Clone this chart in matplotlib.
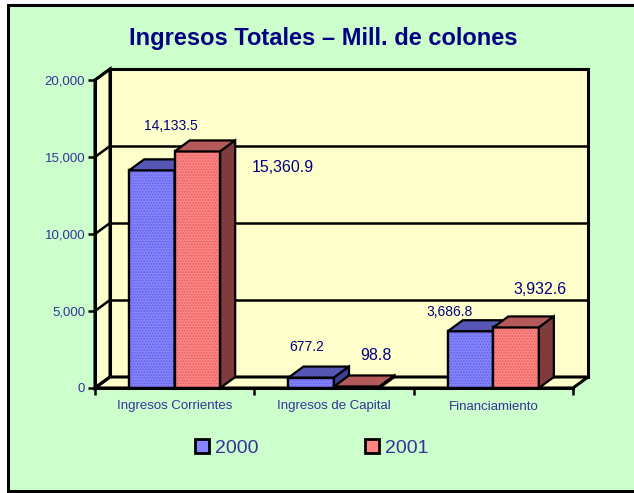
import matplotlib
matplotlib.use("Agg")
import matplotlib.pyplot as plt
from matplotlib.patches import Polygon, Rectangle, Patch
from matplotlib import font_manager

# ---------------- data ----------------
categories = ["Ingresos Corrientes", "Ingresos de Capital", "Financiamiento"]
series_names = ["2000", "2001"]
values_2000 = [14133.5, 677.2, 3686.8]
values_2001 = [15360.9, 98.8, 3932.6]
label_2000 = ["14,133.5", "677.2", "3,686.8"]
label_2001 = ["15,360.9", "98.8", "3,932.6"]
y_ticks = [0, 5000, 10000, 15000, 20000]
y_tick_labels = ["0", "5,000", "10,000", "15,000", "20,000"]

# ---------------- style ----------------
names = {f.name for f in font_manager.fontManager.ttflist}
HAS_NARROW = "Liberation Sans Narrow" in names
NARROW = "Liberation Sans Narrow" if HAS_NARROW else "Liberation Sans"
REG = "Liberation Sans"
plt.rcParams["font.family"] = [REG, "DejaVu Sans"]
plt.rcParams["hatch.linewidth"] = 0.8

W, H = 634, 493
fig = plt.figure(figsize=(W / 100, H / 100), dpi=100, facecolor="white")

# outer green frame
fig.patches.append(Rectangle((8 / W, 2 / H), (640 - 8) / W, (488 - 2) / H,
                             transform=fig.transFigure, facecolor="#CCFFCC",
                             edgecolor="black", lw=2.2, zorder=-10))

x0, x1, yb, yt = 95, 573, 388, 80
ax = fig.add_axes([x0 / W, (H - yb) / H, (x1 - x0) / W, (yb - yt) / H])
ax.set_zorder(1)
ax.set_xlim(0, 3)
ax.set_ylim(0, 20000)
ax.patch.set_visible(False)
for s in ax.spines.values():
    s.set_visible(False)

# depth offsets in data units
px_x = 3 / (x1 - x0)
px_y = 20000 / (yb - yt)
ddx = 15 * px_x
ddy = 11 * px_y
ymax = 20000
ncat = len(categories)

wall = "#FFFFCC"
lw_wall = 2.2
# back wall
ax.add_patch(Polygon([(ddx, ddy), (ncat + ddx, ddy), (ncat + ddx, ymax + ddy), (ddx, ymax + ddy)],
                     closed=True, facecolor=wall, edgecolor="black", lw=lw_wall, clip_on=False, zorder=1))
# left wall
ax.add_patch(Polygon([(0, 0), (0, ymax), (ddx, ymax + ddy), (ddx, ddy)],
                     closed=True, facecolor=wall, edgecolor="black", lw=lw_wall, clip_on=False, zorder=1))
# floor
ax.add_patch(Polygon([(0, 0), (ncat, 0), (ncat + ddx, ddy), (ddx, ddy)],
                     closed=True, facecolor=wall, edgecolor="black", lw=lw_wall, clip_on=False, zorder=1))
# gridlines
for v in y_ticks[1:-1]:
    ax.plot([ddx, ncat + ddx], [v + ddy, v + ddy], color="black", lw=1.8, clip_on=False, zorder=2)
for v in y_ticks:
    ax.plot([0, ddx], [v, v + ddy], color="black", lw=1.8, clip_on=False, zorder=2)
ax.plot([0, 0], [0, ymax], color="black", lw=lw_wall, clip_on=False, zorder=2)
ax.plot([0, ncat], [0, 0], color="black", lw=lw_wall, clip_on=False, zorder=2)

# ---------------- bars ----------------
bw = 1 / 3.5
colors = {
    "2000": ("#8585FF", "#5656B4", "#3E3E90", "#6060E0"),
    "2001": ("#FF8585", "#B45A5A", "#7E3C3C", "#E06060"),
}
z = 3
for i in range(ncat):
    c = i + 0.5
    for j, (name, vals) in enumerate(zip(series_names, [values_2000, values_2001])):
        front, top, side, dots = colors[name]
        left = c - bw + j * bw
        v = vals[i]
        ax.bar([left], [v], width=bw, align="edge", color=front, edgecolor="black",
               lw=1.6, zorder=z, clip_on=False)
        ax.bar([left], [v], width=bw, align="edge", facecolor="none", edgecolor=dots,
               lw=0, hatch="......", zorder=z, clip_on=False)
        ax.bar([left], [v], width=bw, align="edge", facecolor="none", edgecolor="black",
               lw=1.6, zorder=z, clip_on=False)
        ax.add_patch(Polygon([(left, v), (left + bw, v), (left + bw + ddx, v + ddy), (left + ddx, v + ddy)],
                             closed=True, facecolor=top, edgecolor="black", lw=1.6, zorder=z, clip_on=False))
        ax.add_patch(Polygon([(left + bw, 0), (left + bw, v), (left + bw + ddx, v + ddy), (left + bw + ddx, ddy)],
                             closed=True, facecolor=side, edgecolor="black", lw=1.6, zorder=z, clip_on=False))
        z += 1

# ---------------- ticks ----------------
tick_color = "#333399"
ax.set_yticks(y_ticks)
ax.set_yticklabels(y_tick_labels, fontsize=9.5, color=tick_color)
ax.tick_params(axis="y", length=5, width=1.8, pad=2, color="black")
ax.set_xticks([i + 0.5 for i in range(ncat)])
ax.set_xticklabels(categories, fontsize=9.5, color=tick_color)
ax.tick_params(axis="x", which="major", length=0, pad=9)
ax.set_xticks([0, 1, 2, 3], minor=True)
ax.tick_params(axis="x", which="minor", length=5, width=1.8, color="black")

# ---------------- data labels (figure pixel positions) ----------------
def fig_text(px, py, s, **kw):
    fig.text(px / W, 1 - py / H, s, ha="center", va="center", **kw)

lab_col = "#000080"
pos_2000 = [(171, 126), (307, 347), (450, 312)]
pos_2001 = [(283, 168), (376, 356), (540, 289)]
for (px, py), s in zip(pos_2000, label_2000):
    fig_text(px, py, s, fontsize=11.5 if HAS_NARROW else 10, family=[NARROW, "DejaVu Sans"],
             color=lab_col, zorder=20)
for (px, py), s in zip(pos_2001, label_2001):
    fig_text(px, py, s, fontsize=11.5, family=[REG, "DejaVu Sans"], color=lab_col, zorder=20)

# ---------------- title ----------------
fig_text(323, 38, "Ingresos Totales \u2013 Mill. de colones",
         fontsize=20.5 if HAS_NARROW else 17, fontweight="bold",
         family=[NARROW, "DejaVu Sans"], color="#000080")

# ---------------- legend ----------------
handles = [Patch(facecolor=colors[n][0], edgecolor="black", lw=2) for n in series_names]
fig.legend(handles, series_names, loc="center", bbox_to_anchor=(311.5 / W, 1 - 448 / H),
           ncol=2, frameon=False, prop={"family": [NARROW, "DejaVu Sans"], "size": 16 if HAS_NARROW else 14},
           handlelength=0.72, handleheight=0.72, handletextpad=0.3, columnspacing=5.5,
           labelcolor=tick_color)

fig.savefig("out.png", dpi=100, facecolor="white")
